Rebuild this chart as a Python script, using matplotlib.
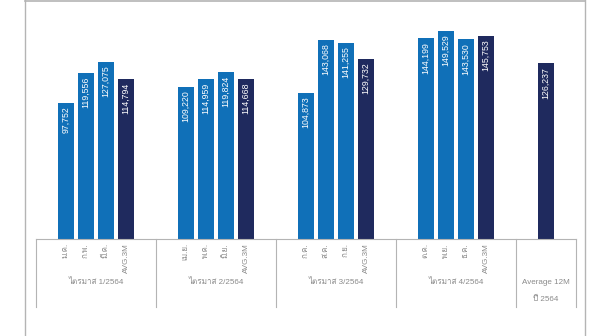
import matplotlib
matplotlib.use('Agg')
import matplotlib.pyplot as plt
from matplotlib import font_manager, ft2font
from matplotlib.lines import Line2D

# values (monthly figures per quarter, 2564)
quarter_names = ['ไตรมาส 1/2564', 'ไตรมาส 2/2564', 'ไตรมาส 3/2564', 'ไตรมาส 4/2564']
month_names = [['ม.ค.', 'ก.พ.', 'มี.ค.'],
               ['เม.ย.', 'พ.ค.', 'มิ.ย.'],
               ['ก.ค.', 'ส.ค.', 'ก.ย.'],
               ['ต.ค.', 'พ.ย.', 'ธ.ค.']]
month_values = [[97752, 119556, 127075],
                [109220, 114959, 119824],
                [104873, 143068, 141255],
                [144199, 149529, 143530]]
avg_3m = [114794, 114668, 129732, 145753]
avg_label = 'AVG.3M'
avg_12m = 126237
year_label = ['Average 12M', 'ปี 2564']

BLUE = '#1070b8'
NAVY = '#1f2a5e'
GRAY = '#8a8a8a'
LINE = '#b4b4b4'

# find something that can draw Thai, fall back to DejaVu
thai_font = None
for f in font_manager.fontManager.ttflist:
    try:
        if 0x0E44 in ft2font.FT2Font(f.fname).get_charmap():
            thai_font = f.name
            break
    except Exception:
        pass
fams = ['Liberation Sans']
if thai_font:
    fams.append(thai_font)
fams.append('DejaVu Sans')
plt.rcParams['font.family'] = fams

fig = plt.figure(figsize=(6.10, 3.36), dpi=100)
W, H = 610, 336
base_y = 239
top_y = 10
ax = fig.add_axes([36 / W, (H - base_y) / H, 540 / W, (base_y - top_y) / H])

xs, vals, cols, ticks = [], [], [], []
for g in range(4):
    for k in range(3):
        xs.append(6 * g + k + 1.5)
        vals.append(month_values[g][k])
        cols.append(BLUE)
        ticks.append(month_names[g][k])
    xs.append(6 * g + 4.5)
    vals.append(avg_3m[g])
    cols.append(NAVY)
    ticks.append(avg_label)
xs.append(25.5)
vals.append(avg_12m)
cols.append(NAVY)
ticks.append('')

ax.bar(xs, vals, width=0.8, color=cols)
for x, v in zip(xs, vals):
    ax.annotate('{:,}'.format(v), (x, v), xytext=(0, -2.5), textcoords='offset points',
                rotation=90, ha='center', va='top', color='white', fontsize=6.3)

ax.set_xlim(0, 27)
ax.set_ylim(0, (base_y - top_y) / 0.001391)
ax.set_yticks([])
ax.set_xticks(xs)
ax.set_xticklabels(ticks, rotation=90, fontsize=5.8, color=GRAY)
ax.tick_params(axis='x', length=0, pad=3)
for s in ['top', 'right', 'left']:
    ax.spines[s].set_visible(False)
ax.spines['bottom'].set_color(LINE)
ax.spines['bottom'].set_linewidth(0.8)

# group separators below the axis
trans = ax.get_xaxis_transform()
sep_bottom = -(307 - base_y) / (base_y - top_y)
for x in [0, 6, 12, 18, 24, 27]:
    ax.plot([x, x], [0, sep_bottom], color=LINE, lw=0.8, transform=trans, clip_on=False)

lab_y = -(282 - base_y) / (base_y - top_y)
for g in range(4):
    ax.text(6 * g + 3, lab_y, quarter_names[g], transform=trans, ha='center', va='center',
            fontsize=5.8, color=GRAY)
ax.text(25.5, lab_y, year_label[0], transform=trans, ha='center', va='center',
        fontsize=5.8, color=GRAY)
ax.text(25.5, -(299 - base_y) / (base_y - top_y), year_label[1], transform=trans,
        ha='center', va='center', fontsize=5.8, color=GRAY)

# outer frame of the panel
fig.add_artist(Line2D([25 / W, 585 / W], [1 - 0.7 / H, 1 - 0.7 / H], color=LINE, lw=1.2))
fig.add_artist(Line2D([25 / W, 25 / W], [0, 1], color=LINE, lw=1.0))
fig.add_artist(Line2D([585 / W, 585 / W], [0, 1], color=LINE, lw=1.0))

fig.savefig('out.png', dpi=100)
